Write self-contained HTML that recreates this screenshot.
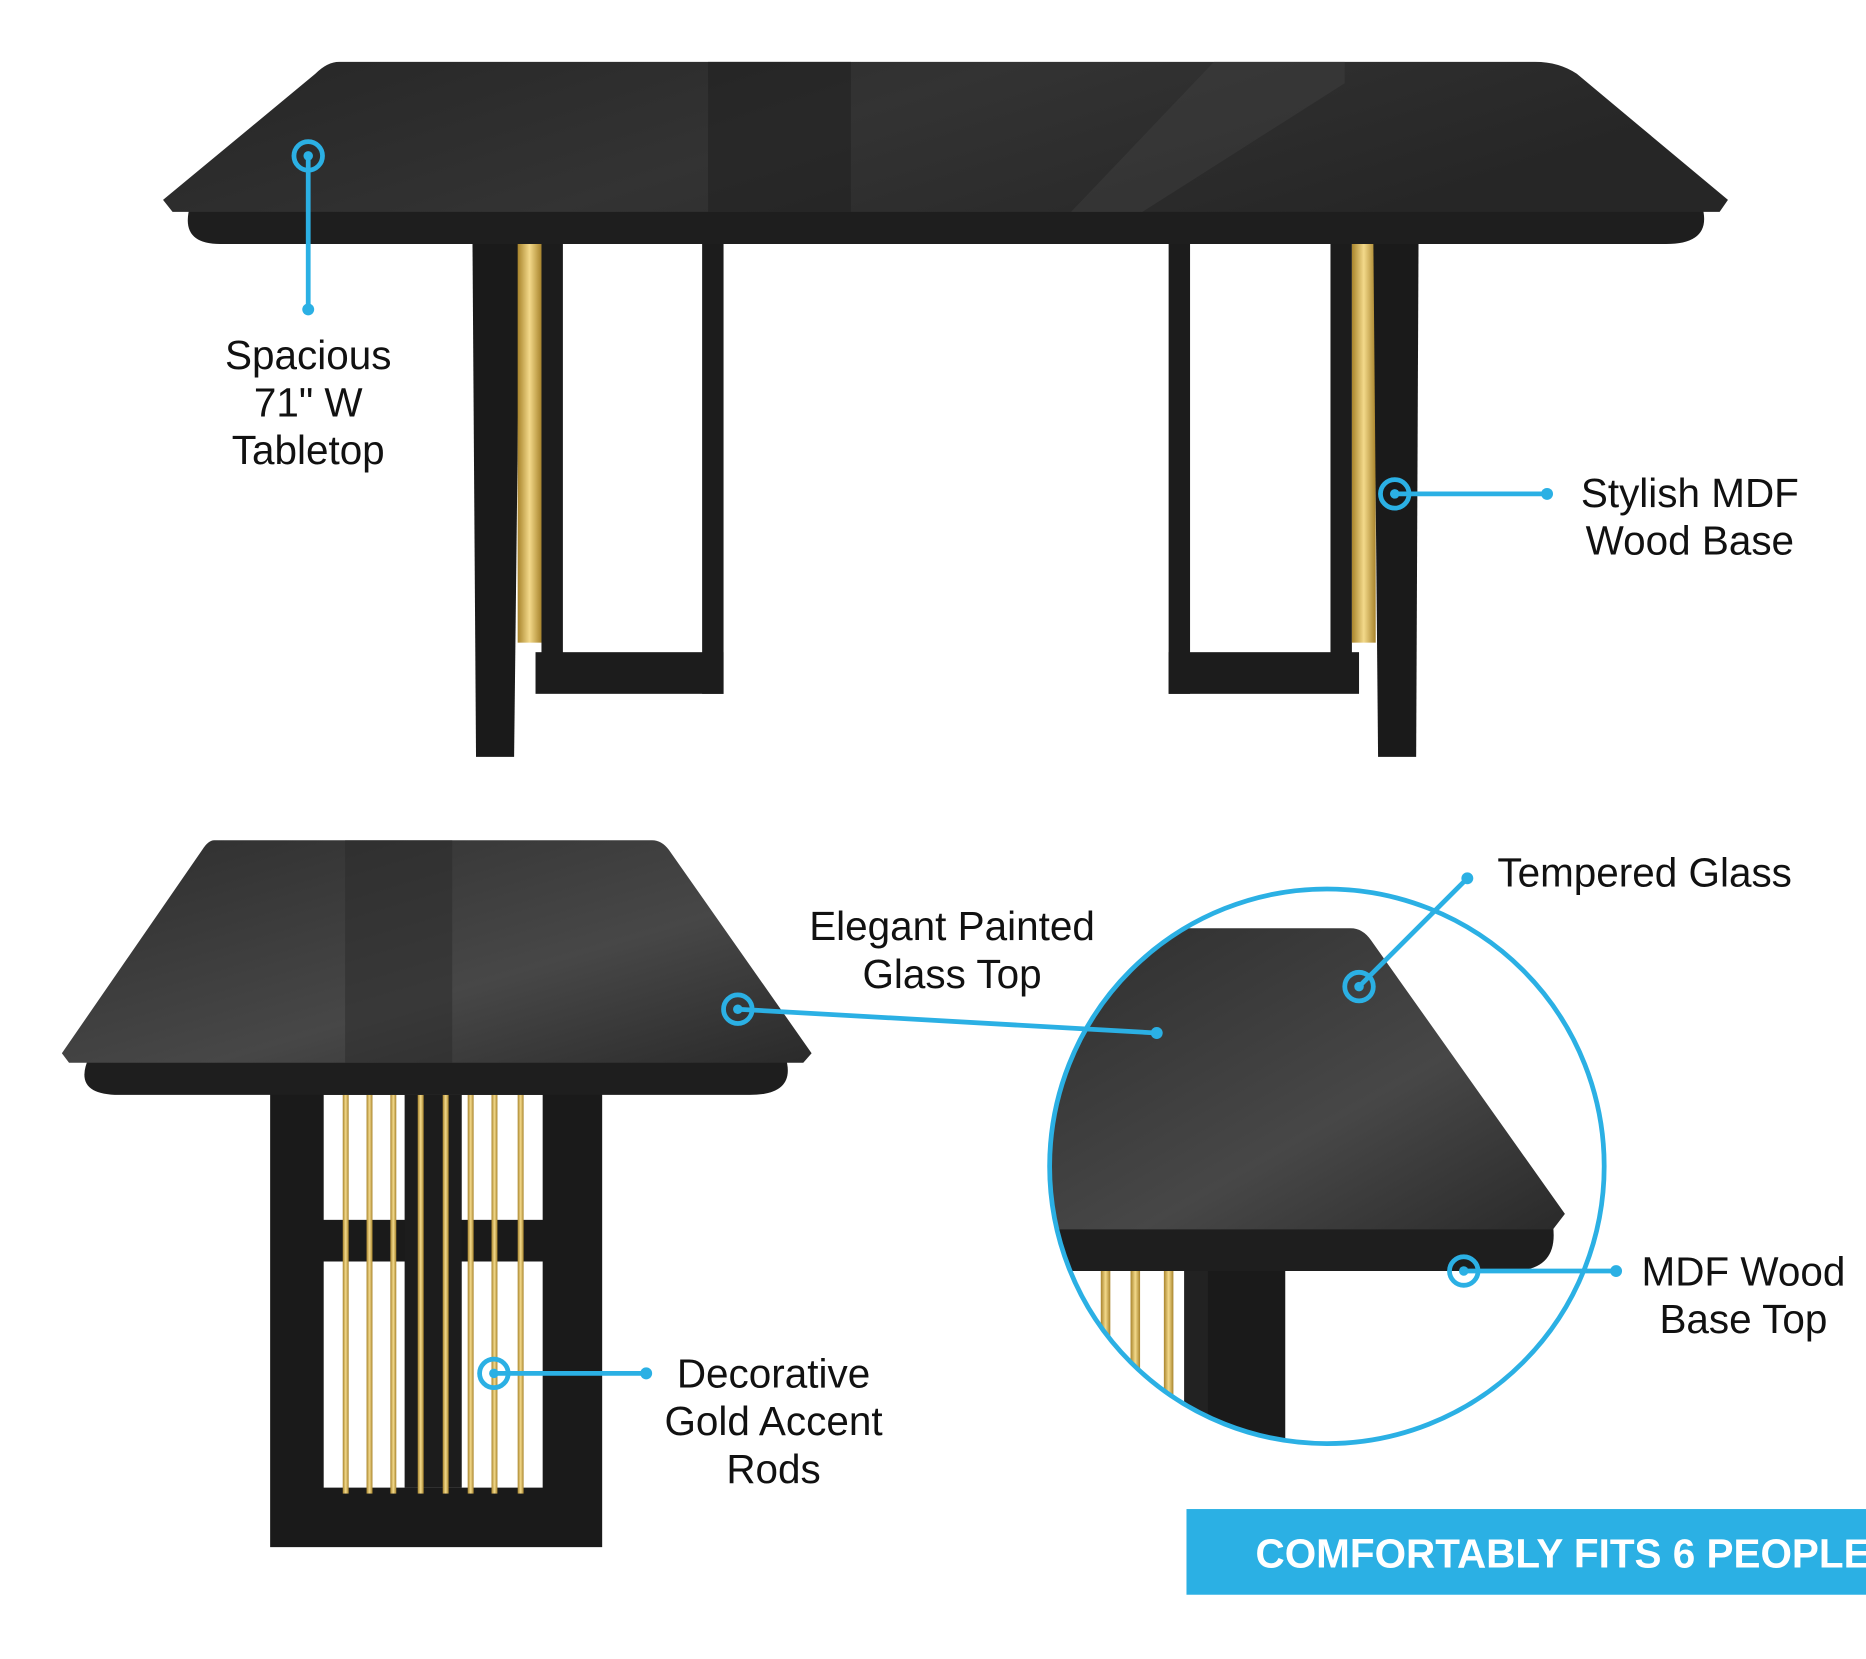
<!DOCTYPE html>
<html><head><meta charset="utf-8"><style>
html,body{margin:0;padding:0;background:#fff;overflow:hidden}
svg{display:block}
text{font-family:"Liberation Sans",sans-serif;fill:#111}
</style></head><body>
<svg width="1866" height="1659" viewBox="0 0 1568 1394" preserveAspectRatio="none" xmlns="http://www.w3.org/2000/svg">
<defs>
<linearGradient id="top" x1="0" y1="0" x2="1" y2="0.3">
<stop offset="0" stop-color="#262626"/><stop offset="0.5" stop-color="#333"/><stop offset="1" stop-color="#262626"/></linearGradient>
<linearGradient id="top2" x1="0" y1="0" x2="1" y2="1">
<stop offset="0" stop-color="#2e2e2e"/><stop offset="0.6" stop-color="#474747"/><stop offset="1" stop-color="#2a2a2a"/></linearGradient>
<linearGradient id="gold" x1="0" x2="1"><stop offset="0" stop-color="#a8842c"/><stop offset="0.5" stop-color="#f3d98a"/><stop offset="1" stop-color="#a8842c"/></linearGradient>
<clipPath id="circ"><circle cx="1115" cy="980" r="233"/></clipPath>
</defs>

<!-- TOP TABLE -->
<polygon points="397,200 437,200 432,636 400,636" fill="#1a1a1a"/>
<rect x="435" y="205" width="20" height="335" fill="url(#gold)"/>
<rect x="455" y="205" width="18" height="345" fill="#1c1c1c"/>
<rect x="590" y="205" width="18" height="378" fill="#1c1c1c"/>
<rect x="450" y="548" width="158" height="35" fill="#1c1c1c"/>
<rect x="982" y="205" width="18" height="378" fill="#1c1c1c"/>
<rect x="982" y="548" width="160" height="35" fill="#1c1c1c"/>
<rect x="1118" y="205" width="18" height="345" fill="#1c1c1c"/>
<rect x="1136" y="205" width="20" height="335" fill="url(#gold)"/>
<polygon points="1154,200 1192,200 1190,636 1158,636" fill="#1a1a1a"/>
<path d="M160,172 L1430,172 Q1440,205 1400,205 L185,205 Q150,205 160,172Z" fill="#1e1e1e"/>
<path d="M285,52 L1290,52 Q1310,52 1325,62 L1452,168 L1445,178 L145,178 L137,168 L265,62 Q275,52 285,52Z" fill="url(#top)"/>
<polygon points="595,52 715,52 715,178 595,178" fill="#222" opacity="0.6"/>
<polygon points="1020,52 1130,52 1130,70 960,178 900,178" fill="#444" opacity="0.4"/>

<!-- BOTTOM LEFT TABLE -->
<rect x="227" y="915" width="279" height="385" fill="#1a1a1a"/>
<rect x="272" y="920" width="184" height="105" fill="#fff"/>
<rect x="272" y="1060" width="184" height="190" fill="#fff"/>
<rect x="340" y="920" width="48" height="330" fill="#1c1c1c"/>
<g fill="url(#gold)">
<rect x="288" y="920" width="5" height="335"/><rect x="308" y="920" width="5" height="335"/>
<rect x="328" y="920" width="5" height="335"/><rect x="351" y="920" width="5" height="335"/>
<rect x="372" y="920" width="5" height="335"/><rect x="393" y="920" width="5" height="335"/>
<rect x="413" y="920" width="5" height="335"/><rect x="435" y="920" width="5" height="335"/>
</g>
<path d="M75,888 L660,888 Q670,920 630,920 L100,920 Q60,920 75,888Z" fill="#1e1e1e"/>
<path d="M180,706 L548,706 Q556,706 562,714 L682,885 L675,893 L58,893 L52,885 L170,714 Q175,706 180,706Z" fill="url(#top2)"/>
<polygon points="290,706 380,706 380,893 290,893" fill="#2a2a2a" opacity="0.5"/>

<!-- CIRCLE DETAIL -->
<g clip-path="url(#circ)">
<rect x="1010" y="1060" width="70" height="200" fill="#1a1a1a"/>
<rect x="890" y="1060" width="120" height="200" fill="#fff"/>
<g fill="url(#gold)"><rect x="925" y="1065" width="8" height="200"/><rect x="950" y="1065" width="8" height="200"/><rect x="978" y="1065" width="8" height="200"/></g>
<rect x="995" y="1060" width="20" height="200" fill="#222"/>
<path d="M870,1030 L1305,1030 Q1310,1068 1270,1068 L870,1068Z" fill="#1e1e1e"/>
<path d="M870,780 L1135,780 Q1145,780 1152,790 L1315,1020 L1305,1033 L870,1033Z" fill="url(#top2)"/>
</g>
<circle cx="1115" cy="980" r="233" fill="none" stroke="#2bb0e4" stroke-width="4"/>

<!-- CALLOUTS -->
<g stroke="#2bb0e4" stroke-width="4" fill="none">
<circle cx="259" cy="131" r="12"/><line x1="259" y1="131" x2="259" y2="260"/>
<circle cx="1172" cy="415" r="12"/><line x1="1172" y1="415" x2="1300" y2="415"/>
<circle cx="620" cy="848" r="12"/><line x1="620" y1="848" x2="972" y2="868"/>
<circle cx="1142" cy="829" r="12"/><line x1="1142" y1="829" x2="1233" y2="738"/>
<circle cx="1230" cy="1068" r="12"/><line x1="1230" y1="1068" x2="1358" y2="1068"/>
<circle cx="415" cy="1154" r="12"/><line x1="415" y1="1154" x2="543" y2="1154"/>
</g>
<g fill="#2bb0e4">
<circle cx="259" cy="131" r="4"/><circle cx="259" cy="260" r="5"/>
<circle cx="1172" cy="415" r="4"/><circle cx="1300" cy="415" r="5"/>
<circle cx="620" cy="848" r="4"/><circle cx="972" cy="868" r="5"/>
<circle cx="1142" cy="829" r="4"/><circle cx="1233" cy="738" r="5"/>
<circle cx="1230" cy="1068" r="4"/><circle cx="1358" cy="1068" r="5"/>
<circle cx="415" cy="1154" r="4"/><circle cx="543" cy="1154" r="5"/>
</g>

<g font-size="34" text-anchor="middle">
<text x="259" y="310">Spacious</text><text x="259" y="350">71" W</text><text x="259" y="390">Tabletop</text>
<text x="1420" y="426">Stylish MDF</text><text x="1420" y="466">Wood Base</text>
<text x="800" y="790">Elegant Painted</text><text x="800" y="830">Glass Top</text>
<text x="1382" y="745">Tempered Glass</text>
<text x="1465" y="1080">MDF Wood</text><text x="1465" y="1120">Base Top</text>
<text x="650" y="1166">Decorative</text><text x="650" y="1206">Gold Accent</text><text x="650" y="1246">Rods</text>
</g>

<rect x="997" y="1268" width="571" height="72" fill="#2bb0e4"/>
<text x="1055" y="1317" font-size="34" font-weight="bold" style="fill:#fff">COMFORTABLY FITS 6 PEOPLE</text>
</svg>
</body></html>
